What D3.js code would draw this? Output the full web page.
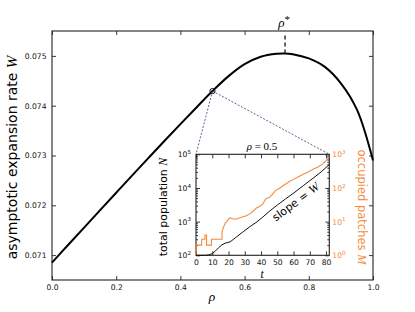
<!DOCTYPE html>
<html>
<head>
<meta charset="utf-8">
<script src="https://cdn.jsdelivr.net/npm/d3@7"></script>
<style>
  body { margin: 0; background: #fff; }
  svg { display: block; font-family: "DejaVu Sans", sans-serif; }
  .math { font-family: "Liberation Serif", serif; font-style: italic; }
</style>
</head>
<body>
<div id="block"></div>
<script>
// main curve: expansion rate vs rho
var rho = [0, 0.05, 0.1, 0.15, 0.2, 0.25, 0.3, 0.35, 0.4, 0.45, 0.5, 0.55, 0.6, 0.65, 0.7, 0.726, 0.75, 0.8, 0.85, 0.9, 0.95, 1.0];
var W = [0.070850, 0.071202, 0.071553, 0.071903, 0.072252, 0.072600, 0.072946, 0.073290, 0.073630, 0.073965, 0.074294, 0.074594, 0.074834, 0.074984, 0.075044, 0.075050, 0.075035, 0.074950, 0.074780, 0.074450, 0.073920, 0.072900];
var rhoTicks = [0, 0.2, 0.4, 0.6, 0.8, 1.0];
var wTicks = [0.071, 0.072, 0.073, 0.074, 0.075];
var rhoInset = 0.5;

// inset: total population N(t) and occupied patches M(t)
var tN = [0, 6, 8, 10, 12, 14, 16, 18, 21, 25, 29, 33, 37, 41, 45, 50, 55, 60, 66, 72, 77, 82];
var N = [100, 100, 103, 112, 135, 170, 205, 230, 250, 355, 500, 700, 950, 1350, 2000, 3100, 4700, 7000, 11700, 19500, 30000, 50000];
var tM = [0, 0, 3.5, 3.5, 5.5, 5.5, 6.5, 6.5, 9.5, 9.5, 16, 16, 17, 18, 19, 20, 21, 23, 25, 27, 29, 31, 33, 35, 37, 39, 41, 43, 45, 47, 49, 51, 54, 57, 60, 63, 66, 69, 72, 75, 78, 80, 82];
var M = [1, 2, 2, 3, 3, 4, 4, 2, 2, 3, 3, 5, 7, 9, 10, 12, 13, 12, 12, 13, 14, 15, 17, 20, 25, 28, 33, 48, 52, 65, 85, 95, 120, 150, 180, 215, 255, 300, 360, 420, 520, 650, 850];
var tTicks = [0, 10, 20, 30, 40, 50, 60, 70, 80];
var nTicks = [1e2, 1e3, 1e4, 1e5];
var mTicks = [1, 10, 100, 1000];

var orange = "#f58b3c",
    spine = "#222";

var svg_dx = 415, svg_dy = 312;
var margin = {top: 31, right: 42, bottom: 32, left: 52};

var svg = d3.select("#block")
            .append("svg")
            .attr("width", svg_dx)
            .attr("height", svg_dy);

var x = d3.scaleLinear().domain([0, 1]).range([margin.left, svg_dx - margin.right]);
var y = d3.scaleLinear().domain([0.0705, 0.0755]).range([svg_dy - margin.bottom, margin.top]);

// ticks (inward, matplotlib style)
function styleAxis(g) {
    g.select(".domain").remove();
    g.selectAll(".tick line").attr("stroke", spine).attr("stroke-width", 0.9);
    g.selectAll(".tick text").attr("fill", "#111").style("font-size", "7.6px").style("font-family", "DejaVu Sans");
}

svg.append("g")
   .attr("transform", "translate(0," + y.range()[0] + ")")
   .call(d3.axisBottom(x).tickValues(rhoTicks).tickSize(-4).tickPadding(5).tickFormat(d3.format(".1f")))
   .call(styleAxis);
svg.append("g")
   .attr("transform", "translate(0," + y.range()[1] + ")")
   .call(d3.axisTop(x).tickValues(rhoTicks).tickSize(-4).tickFormat(""))
   .call(styleAxis);
svg.append("g")
   .attr("transform", "translate(" + x.range()[0] + ",0)")
   .call(d3.axisLeft(y).tickValues(wTicks).tickSize(-4).tickPadding(5.5).tickFormat(d3.format(".3f")))
   .call(styleAxis);
svg.append("g")
   .attr("transform", "translate(" + x.range()[1] + ",0)")
   .call(d3.axisRight(y).tickValues(wTicks).tickSize(-4).tickFormat(""))
   .call(styleAxis);

svg.append("rect")
   .attr("x", x.range()[0]).attr("y", y.range()[1])
   .attr("width", x.range()[1] - x.range()[0])
   .attr("height", y.range()[0] - y.range()[1])
   .attr("fill", "none").attr("stroke", spine).attr("stroke-width", 1.1);

// main curve
var pts = rho.map(function(r, i) { return [r, W[i]]; });
svg.append("path")
   .datum(pts)
   .attr("fill", "none")
   .attr("stroke", "#000")
   .attr("stroke-width", 2)
   .attr("d", d3.line()
               .x(function(d) { return x(d[0]); })
               .y(function(d) { return y(d[1]); })
               .curve(d3.curveCatmullRom.alpha(0.5)));

// optimum rho*
var iMax = d3.maxIndex(W);
svg.append("line")
   .attr("x1", x(rho[iMax])).attr("x2", x(rho[iMax]))
   .attr("y1", y(W[iMax])).attr("y2", y.range()[1] + 2)
   .attr("stroke", "#222").attr("stroke-width", 1.4)
   .attr("stroke-dasharray", "4,3");
var rs = svg.append("text")
            .attr("x", x(rho[iMax]) - 1).attr("y", 27)
            .attr("text-anchor", "middle")
            .attr("class", "math")
            .style("font-size", "13px")
            .text("ρ");
rs.append("tspan").attr("dy", -4.5).style("font-size", "11px").style("font-style", "normal").text("*");

// axis labels
var yl = svg.append("text")
            .attr("transform", "translate(16.5," + ((y.range()[0] + y.range()[1]) / 2 + 2) + ") rotate(-90)")
            .attr("text-anchor", "middle")
            .style("font-size", "14px")
            .text("asymptotic expansion rate ");
yl.append("tspan").attr("class", "math").style("font-size", "15px").text("W");

svg.append("text")
   .attr("x", 212).attr("y", 301)
   .attr("text-anchor", "middle")
   .attr("class", "math")
   .style("font-size", "13.5px")
   .text("ρ");

// highlighted point and zoom connectors
var iPt = rho.indexOf(rhoInset);
var px = x(rho[iPt]), py = y(W[iPt]);

var inset = {left: 196, right: 329.3, top: 154.3, bottom: 255.3};

svg.append("g")
   .selectAll("line")
   .data([inset.left, inset.right])
   .enter()
   .append("line")
   .attr("x1", px).attr("y1", py)
   .attr("x2", function(d) { return d; }).attr("y2", inset.top)
   .attr("stroke", "#3a3a78").attr("stroke-width", 0.8)
   .attr("stroke-dasharray", "2,1.6");

svg.append("circle")
   .attr("cx", px).attr("cy", py).attr("r", 2.6)
   .attr("fill", "none").attr("stroke", "#111").attr("stroke-width", 1);

// inset
var tx = d3.scaleLinear().domain([0, 82]).range([inset.left, inset.right]);
var ny = d3.scaleLog().domain([1e2, 1e5]).range([inset.bottom, inset.top]);
var my = d3.scaleLog().domain([1, 1e3]).range([inset.bottom, inset.top]);

var ig = svg.append("g");
ig.append("rect")
  .attr("x", inset.left).attr("y", inset.top)
  .attr("width", inset.right - inset.left).attr("height", inset.bottom - inset.top)
  .attr("fill", "#fff");

function powLabel(sel) {
    sel.selectAll(".tick text").each(function(d) {
        var t = d3.select(this);
        t.text("10");
        t.append("tspan").attr("dy", "-0.55em").style("font-size", "5.6px").text(Math.round(Math.log10(d)));
    });
}
function minors(lo, hi) {
    var out = [];
    for (var e = lo; e < hi; e++)
        for (var k = 2; k <= 9; k++) out.push(k * Math.pow(10, e));
    return out;
}

ig.append("g")
  .attr("transform", "translate(0," + inset.bottom + ")")
  .call(d3.axisBottom(tx).tickValues(tTicks).tickSize(-4).tickPadding(4.5).tickFormat(d3.format("d")))
  .call(styleAxis);
ig.append("g")
  .attr("transform", "translate(0," + inset.top + ")")
  .call(d3.axisTop(tx).tickValues(tTicks).tickSize(-4).tickFormat(""))
  .call(styleAxis);
ig.append("g")
  .attr("transform", "translate(" + inset.left + ",0)")
  .call(d3.axisLeft(ny).tickValues(nTicks).tickSize(-4).tickPadding(5))
  .call(styleAxis)
  .call(powLabel);
ig.append("g")
  .attr("transform", "translate(" + inset.left + ",0)")
  .call(d3.axisLeft(ny).tickValues(minors(2, 5)).tickSize(-2).tickFormat(""))
  .call(styleAxis);
ig.append("g")
  .attr("transform", "translate(" + inset.right + ",0)")
  .call(d3.axisRight(my).tickValues(mTicks).tickSize(-4).tickPadding(3))
  .call(styleAxis)
  .call(powLabel)
  .selectAll(".tick text").attr("fill", orange);
ig.append("g")
  .attr("transform", "translate(" + inset.right + ",0)")
  .call(d3.axisRight(my).tickValues(minors(0, 3)).tickSize(-2).tickFormat(""))
  .call(styleAxis);

ig.append("rect")
  .attr("x", inset.left).attr("y", inset.top)
  .attr("width", inset.right - inset.left).attr("height", inset.bottom - inset.top)
  .attr("fill", "none").attr("stroke", spine).attr("stroke-width", 1.1);

// inset series
ig.append("path")
  .datum(tM.map(function(t, i) { return [t, M[i]]; }))
  .attr("fill", "none").attr("stroke", orange).attr("stroke-width", 1.1)
  .attr("d", d3.line().x(function(d) { return tx(d[0]); }).y(function(d) { return my(d[1]); }));
ig.append("path")
  .datum(tN.map(function(t, i) { return [t, N[i]]; }))
  .attr("fill", "none").attr("stroke", "#111").attr("stroke-width", 1)
  .attr("d", d3.line().x(function(d) { return tx(d[0]); }).y(function(d) { return ny(d[1]); }));

// inset labels
var it = ig.append("text")
           .attr("x", 262).attr("y", 150)
           .attr("text-anchor", "middle")
           .style("font-family", "Liberation Serif")
           .style("font-size", "11px");
it.append("tspan").style("font-style", "italic").text("ρ");
it.append("tspan").text(" = 0.5");

ig.append("text")
  .attr("x", 262).attr("y", 278)
  .attr("text-anchor", "middle")
  .attr("class", "math")
  .style("font-size", "11.5px")
  .text("t");

var nl = ig.append("text")
           .attr("transform", "translate(166.5,207) rotate(-90)")
           .attr("text-anchor", "middle")
           .style("font-size", "11px")
           .text("total population ");
nl.append("tspan").attr("class", "math").style("font-size", "12px").text("N");

var ml = ig.append("text")
           .attr("transform", "translate(357.5,207) rotate(90)")
           .attr("text-anchor", "middle")
           .attr("fill", orange)
           .style("font-size", "11.5px")
           .text("occupied patches ");
ml.append("tspan").attr("class", "math").style("font-size", "12.5px").text("M");

var sl = ig.append("text")
           .attr("transform", "translate(298,205) rotate(-37)")
           .attr("text-anchor", "middle")
           .style("font-size", "11px")
           .text("slope = ");
sl.append("tspan").attr("class", "math").style("font-size", "12px").text("W");
</script>
</body>
</html>
